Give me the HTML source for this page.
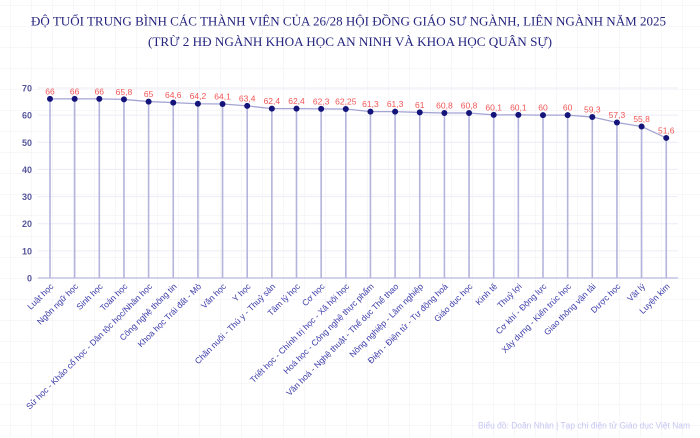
<!DOCTYPE html>
<html>
<head>
<meta charset="utf-8">
<style>
  html,body{margin:0;padding:0;background:#fff;}
  svg{display:block;}
  .t{font-family:"Liberation Serif","Noto Serif CJK SC",serif;fill:#25257f;}
  .yl{font-family:"Liberation Sans",sans-serif;font-size:9px;font-weight:bold;fill:#55559a;text-anchor:end;}
  .xl{font-family:"Liberation Sans",sans-serif;font-size:8.5px;fill:#3a3aa8;text-anchor:end;}
  .vl{font-family:"Liberation Sans",sans-serif;font-size:8.5px;fill:#f25555;text-anchor:middle;}
  .ft{font-family:"Liberation Sans",sans-serif;font-size:9px;fill:#c6c6f2;}
</style>
</head>
<body>
<svg width="700" height="438" viewBox="0 0 700 438" xmlns="http://www.w3.org/2000/svg">
  <defs>
    <pattern id="bg" x="10" y="5" width="21" height="21" patternUnits="userSpaceOnUse">
      <path d="M0 0 H21 M0 0 V21" stroke="#efeff6" stroke-width="1" fill="none"/>
    </pattern>
  </defs>
  <rect width="700" height="438" fill="#ffffff"/>
  <rect width="700" height="438" fill="url(#bg)"/>

  <!-- Title -->
  <text class="t" x="31" y="25.5" font-size="13" textLength="635" lengthAdjust="spacingAndGlyphs">ĐỘ TUỔI TRUNG BÌNH CÁC THÀNH VIÊN CỦA 26/28 HỘI ĐỒNG GIÁO SƯ NGÀNH, LIÊN NGÀNH NĂM 2025</text>
  <text class="t" x="148" y="46" font-size="13" textLength="404" lengthAdjust="spacingAndGlyphs">(TRỪ 2 HĐ NGÀNH KHOA HỌC AN NINH VÀ KHOA HỌC QUÂN SỰ)</text>

  <!-- horizontal gridlines -->
  <g stroke="#ececf6" stroke-width="1">
    <line x1="38" y1="88" x2="678" y2="88"/>
    <line x1="38" y1="115.1" x2="678" y2="115.1"/>
    <line x1="38" y1="142.3" x2="678" y2="142.3"/>
    <line x1="38" y1="169.4" x2="678" y2="169.4"/>
    <line x1="38" y1="196.6" x2="678" y2="196.6"/>
    <line x1="38" y1="223.7" x2="678" y2="223.7"/>
    <line x1="38" y1="250.9" x2="678" y2="250.9"/>
  </g>

  <!-- y labels -->
  <text class="yl" x="32" y="91.5">70</text>
  <text class="yl" x="32" y="118.6">60</text>
  <text class="yl" x="32" y="145.8">50</text>
  <text class="yl" x="32" y="172.9">40</text>
  <text class="yl" x="32" y="200.1">30</text>
  <text class="yl" x="32" y="227.2">20</text>
  <text class="yl" x="32" y="254.4">10</text>
  <text class="yl" x="32" y="281.5">0</text>

  <!-- axis -->
  <line x1="38" y1="278" x2="678" y2="278" stroke="#b8b8e0" stroke-width="1.2"/>

  <!-- drop lines -->
  <g stroke="#b4b4dc" stroke-width="1.6">
    <line x1="50" y1="98.86" x2="50" y2="278"/>
    <line x1="74.65" y1="98.86" x2="74.65" y2="278"/>
    <line x1="99.3" y1="98.86" x2="99.3" y2="278"/>
    <line x1="123.95" y1="99.4" x2="123.95" y2="278"/>
    <line x1="148.6" y1="101.57" x2="148.6" y2="278"/>
    <line x1="173.25" y1="102.66" x2="173.25" y2="278"/>
    <line x1="197.9" y1="103.74" x2="197.9" y2="278"/>
    <line x1="222.55" y1="104.01" x2="222.55" y2="278"/>
    <line x1="247.2" y1="105.91" x2="247.2" y2="278"/>
    <line x1="271.85" y1="108.63" x2="271.85" y2="278"/>
    <line x1="296.5" y1="108.63" x2="296.5" y2="278"/>
    <line x1="321.15" y1="108.9" x2="321.15" y2="278"/>
    <line x1="345.8" y1="109.04" x2="345.8" y2="278"/>
    <line x1="370.45" y1="111.61" x2="370.45" y2="278"/>
    <line x1="395.1" y1="111.61" x2="395.1" y2="278"/>
    <line x1="419.75" y1="112.43" x2="419.75" y2="278"/>
    <line x1="444.4" y1="112.97" x2="444.4" y2="278"/>
    <line x1="469.05" y1="112.97" x2="469.05" y2="278"/>
    <line x1="493.7" y1="114.87" x2="493.7" y2="278"/>
    <line x1="518.35" y1="114.87" x2="518.35" y2="278"/>
    <line x1="543" y1="115.14" x2="543" y2="278"/>
    <line x1="567.65" y1="115.14" x2="567.65" y2="278"/>
    <line x1="592.3" y1="117.04" x2="592.3" y2="278"/>
    <line x1="616.95" y1="122.47" x2="616.95" y2="278"/>
    <line x1="641.6" y1="126.54" x2="641.6" y2="278"/>
    <line x1="666.25" y1="137.94" x2="666.25" y2="278"/>
  </g>

  <!-- series line -->
  <polyline fill="none" stroke="#a4a4d4" stroke-width="1.3" points="50,98.86 74.65,98.86 99.3,98.86 123.95,99.4 148.6,101.57 173.25,102.66 197.9,103.74 222.55,104.01 247.2,105.91 271.85,108.63 296.5,108.63 321.15,108.9 345.8,109.04 370.45,111.61 395.1,111.61 419.75,112.43 444.4,112.97 469.05,112.97 493.7,114.87 518.35,114.87 543,115.14 567.65,115.14 592.3,117.04 616.95,122.47 641.6,126.54 666.25,137.94"/>

  <!-- markers -->
  <g fill="#14147a">
    <circle cx="50" cy="98.86" r="3"/>
    <circle cx="74.65" cy="98.86" r="3"/>
    <circle cx="99.3" cy="98.86" r="3"/>
    <circle cx="123.95" cy="99.4" r="3"/>
    <circle cx="148.6" cy="101.57" r="3"/>
    <circle cx="173.25" cy="102.66" r="3"/>
    <circle cx="197.9" cy="103.74" r="3"/>
    <circle cx="222.55" cy="104.01" r="3"/>
    <circle cx="247.2" cy="105.91" r="3"/>
    <circle cx="271.85" cy="108.63" r="3"/>
    <circle cx="296.5" cy="108.63" r="3"/>
    <circle cx="321.15" cy="108.9" r="3"/>
    <circle cx="345.8" cy="109.04" r="3"/>
    <circle cx="370.45" cy="111.61" r="3"/>
    <circle cx="395.1" cy="111.61" r="3"/>
    <circle cx="419.75" cy="112.43" r="3"/>
    <circle cx="444.4" cy="112.97" r="3"/>
    <circle cx="469.05" cy="112.97" r="3"/>
    <circle cx="493.7" cy="114.87" r="3"/>
    <circle cx="518.35" cy="114.87" r="3"/>
    <circle cx="543" cy="115.14" r="3"/>
    <circle cx="567.65" cy="115.14" r="3"/>
    <circle cx="592.3" cy="117.04" r="3"/>
    <circle cx="616.95" cy="122.47" r="3"/>
    <circle cx="641.6" cy="126.54" r="3"/>
    <circle cx="666.25" cy="137.94" r="3"/>
  </g>

  <!-- value labels -->
  <text class="vl" x="50" y="94.4">66</text>
  <text class="vl" x="74.65" y="94.4">66</text>
  <text class="vl" x="99.3" y="94.4">66</text>
  <text class="vl" x="123.95" y="94.9">65,8</text>
  <text class="vl" x="148.6" y="97.1">65</text>
  <text class="vl" x="173.25" y="98.2">64,6</text>
  <text class="vl" x="197.9" y="99.2">64,2</text>
  <text class="vl" x="222.55" y="99.5">64,1</text>
  <text class="vl" x="247.2" y="101.4">63,4</text>
  <text class="vl" x="271.85" y="104.1">62,4</text>
  <text class="vl" x="296.5" y="104.1">62,4</text>
  <text class="vl" x="321.15" y="104.4">62,3</text>
  <text class="vl" x="345.8" y="104.5">62,25</text>
  <text class="vl" x="370.45" y="107.1">61,3</text>
  <text class="vl" x="395.1" y="107.1">61,3</text>
  <text class="vl" x="419.75" y="107.9">61</text>
  <text class="vl" x="444.4" y="108.5">60,8</text>
  <text class="vl" x="469.05" y="108.5">60,8</text>
  <text class="vl" x="493.7" y="110.4">60,1</text>
  <text class="vl" x="518.35" y="110.4">60,1</text>
  <text class="vl" x="543" y="110.6">60</text>
  <text class="vl" x="567.65" y="110.6">60</text>
  <text class="vl" x="592.3" y="112.5">59,3</text>
  <text class="vl" x="616.95" y="118">57,3</text>
  <text class="vl" x="641.6" y="122">55,8</text>
  <text class="vl" x="666.25" y="133.4">51,6</text>

  <!-- x labels -->
  <text class="xl" transform="translate(54,287) rotate(-45)">Luật học</text>
  <text class="xl" transform="translate(78.65,287) rotate(-45)">Ngôn ngữ học</text>
  <text class="xl" transform="translate(103.3,287) rotate(-45)">Sinh học</text>
  <text class="xl" transform="translate(127.95,287) rotate(-45)">Toán học</text>
  <text class="xl" transform="translate(152.6,287) rotate(-45)">Sử học - Khảo cổ học - Dân tộc học/Nhân học</text>
  <text class="xl" transform="translate(177.25,287) rotate(-45)">Công nghệ thông tin</text>
  <text class="xl" transform="translate(201.9,287) rotate(-45)">Khoa học Trái đất - Mỏ</text>
  <text class="xl" transform="translate(226.55,287) rotate(-45)">Văn học</text>
  <text class="xl" transform="translate(251.2,287) rotate(-45)">Y học</text>
  <text class="xl" transform="translate(275.85,287) rotate(-45)">Chăn nuôi - Thú y - Thuỷ sản</text>
  <text class="xl" transform="translate(300.5,287) rotate(-45)">Tâm lý học</text>
  <text class="xl" transform="translate(325.15,287) rotate(-45)">Cơ học</text>
  <text class="xl" transform="translate(349.8,287) rotate(-45)">Triết học - Chính trị học - Xã hội học</text>
  <text class="xl" transform="translate(374.45,287) rotate(-45)">Hoá học - Công nghệ thực phẩm</text>
  <text class="xl" transform="translate(399.1,287) rotate(-45)">Văn hoá - Nghệ thuật - Thể dục Thể thao</text>
  <text class="xl" transform="translate(423.75,287) rotate(-45)">Nông nghiệp - Lâm nghiệp</text>
  <text class="xl" transform="translate(448.4,287) rotate(-45)">Điện - Điện tử - Tự động hoá</text>
  <text class="xl" transform="translate(473.05,287) rotate(-45)">Giáo dục học</text>
  <text class="xl" transform="translate(497.7,287) rotate(-45)">Kinh tế</text>
  <text class="xl" transform="translate(522.35,287) rotate(-45)">Thuỷ lợi</text>
  <text class="xl" transform="translate(547,287) rotate(-45)">Cơ khí - Động lực</text>
  <text class="xl" transform="translate(571.65,287) rotate(-45)">Xây dựng - Kiến trúc học</text>
  <text class="xl" transform="translate(596.3,287) rotate(-45)">Giao thông vận tải</text>
  <text class="xl" transform="translate(620.95,287) rotate(-45)">Dược học</text>
  <text class="xl" transform="translate(645.6,287) rotate(-45)">Vật lý</text>
  <text class="xl" transform="translate(670.25,287) rotate(-45)">Luyện kim</text>

  <!-- footer -->
  <text class="ft" x="478" y="428.5" textLength="212" lengthAdjust="spacingAndGlyphs">Biểu đồ: Doãn Nhàn | Tạp chí điện tử Giáo dục Việt Nam</text>
</svg>
</body>
</html>
